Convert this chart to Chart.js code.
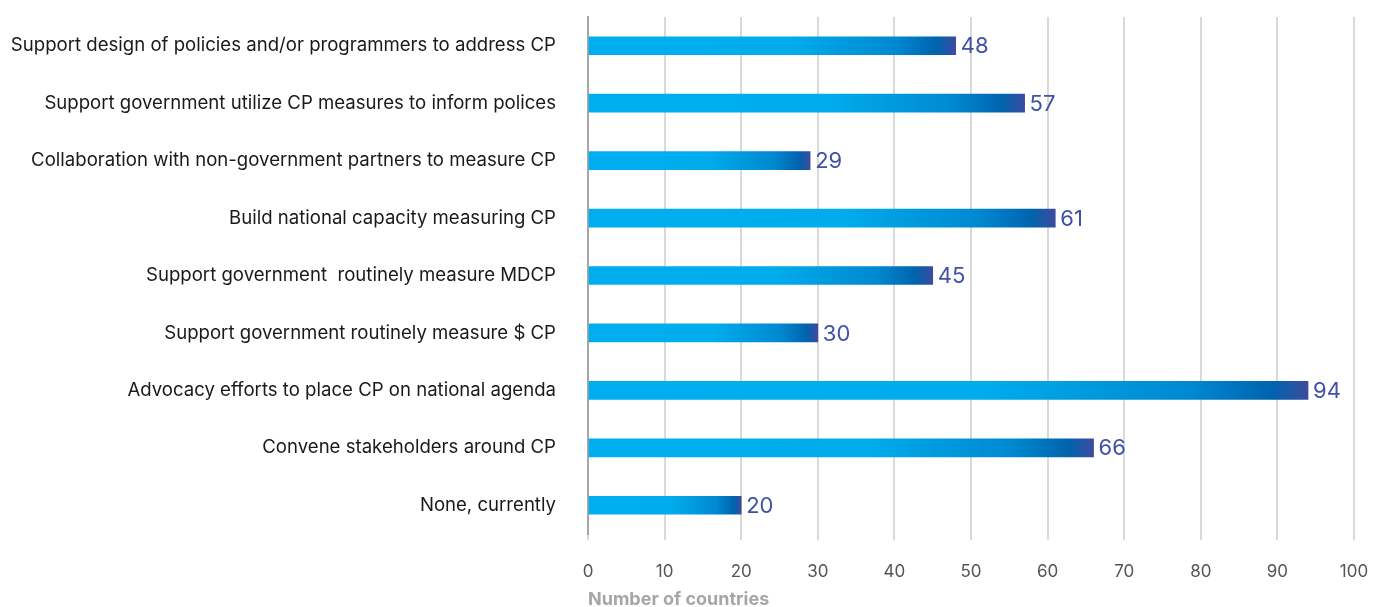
<!DOCTYPE html>
<html><head><meta charset="utf-8">
<script src="https://cdn.jsdelivr.net/npm/chart.js@4.4.0/dist/chart.umd.min.js"></script>
<style>html,body{margin:0;padding:0;background:#fff}#wrap{width:1380px;height:607px}</style>
</head><body><div id="wrap"><canvas id="c" width="1380" height="607"></canvas></div>
<script>
const categories = [
  "Support design of policies and/or programmers to address CP",
  "Support government utilize CP measures to inform polices",
  "Collaboration with non-government partners to measure CP",
  "Build national capacity measuring CP",
  "Support government  routinely measure MDCP",
  "Support government routinely measure $ CP",
  "Advocacy efforts to place CP on national agenda",
  "Convene stakeholders around CP",
  "None, currently"
];
const values = [48, 57, 29, 61, 45, 30, 94, 66, 20];
const xTicks = [0, 10, 20, 30, 40, 50, 60, 70, 80, 90, 100];
const axisTitle = "Number of countries";
const FONT = 'Inter, "Liberation Sans", Arial, sans-serif';

function barGradient(ctx) {
  const chart = ctx.chart;
  const xs = chart.scales.x;
  if (!xs || ctx.dataIndex === undefined) return '#00AEEF';
  const v = ctx.dataset.data[ctx.dataIndex];
  const x0 = xs.getPixelForValue(0), x1 = xs.getPixelForValue(v);
  if (!isFinite(x0) || !isFinite(x1) || x1 <= x0) return '#00AEEF';
  const g = chart.ctx.createLinearGradient(x0, 0, x1, 0);
  g.addColorStop(0, '#00AEEF');
  g.addColorStop(0.55, '#00ACEC');
  g.addColorStop(0.84, '#0088D0');
  g.addColorStop(0.95, '#0063AE');
  g.addColorStop(1, '#3D4B9F');
  return g;
}

const labelPlugin = {
  id: 'valLabels',
  afterDatasetsDraw(chart) {
    const c = chart.ctx;
    const meta = chart.getDatasetMeta(0);
    c.save();
    c.font = '22px ' + FONT;
    c.fillStyle = '#3F51A8';
    c.textAlign = 'left';
    c.textBaseline = 'middle';
    meta.data.forEach((el, i) => {
      c.fillText(String(values[i]), el.x + 5, el.y + 1);
    });
    c.restore();
  }
};

new Chart(document.getElementById('c'), {
  type: 'bar',
  data: {
    labels: categories,
    datasets: [{
      data: values,
      backgroundColor: barGradient,
      barThickness: 18,
      borderWidth: 0
    }]
  },
  options: {
    indexAxis: 'y',
    responsive: false,
    animation: false,
    layout: { padding: { top: 17, right: 26, left: 0, bottom: -3 } },
    plugins: { legend: { display: false }, tooltip: { enabled: false } },
    scales: {
      x: {
        min: 0, max: 100,
        afterBuildTicks(s) { s.ticks = xTicks.map(v => ({ value: v })); },
        afterFit(s) { s.paddingLeft = 0; s.paddingRight = 0; s.height = 76; },
        grid: { color: '#D9D9D9', lineWidth: 2, tickLength: 6, drawTicks: true },
        border: { display: false },
        ticks: { color: '#555555', font: { size: 17, family: FONT }, padding: 22 },
        title: { display: true, text: axisTitle, color: '#A6A6A6', align: 'start',
          font: { size: 18, weight: 'bold', family: FONT }, padding: { top: 6, bottom: 0 } }
      },
      y: {
        grid: { display: false, drawTicks: false },
        border: { display: true, color: '#A6A6A6', width: 2 },
        afterFit(s) { s.width = 588; s.paddingTop = 0; s.paddingBottom = 0; },
        ticks: { color: '#1A1A1A', font: { size: 18.6, family: FONT }, padding: 32 }
      }
    }
  },
  plugins: [labelPlugin]
});
</script></body></html>
